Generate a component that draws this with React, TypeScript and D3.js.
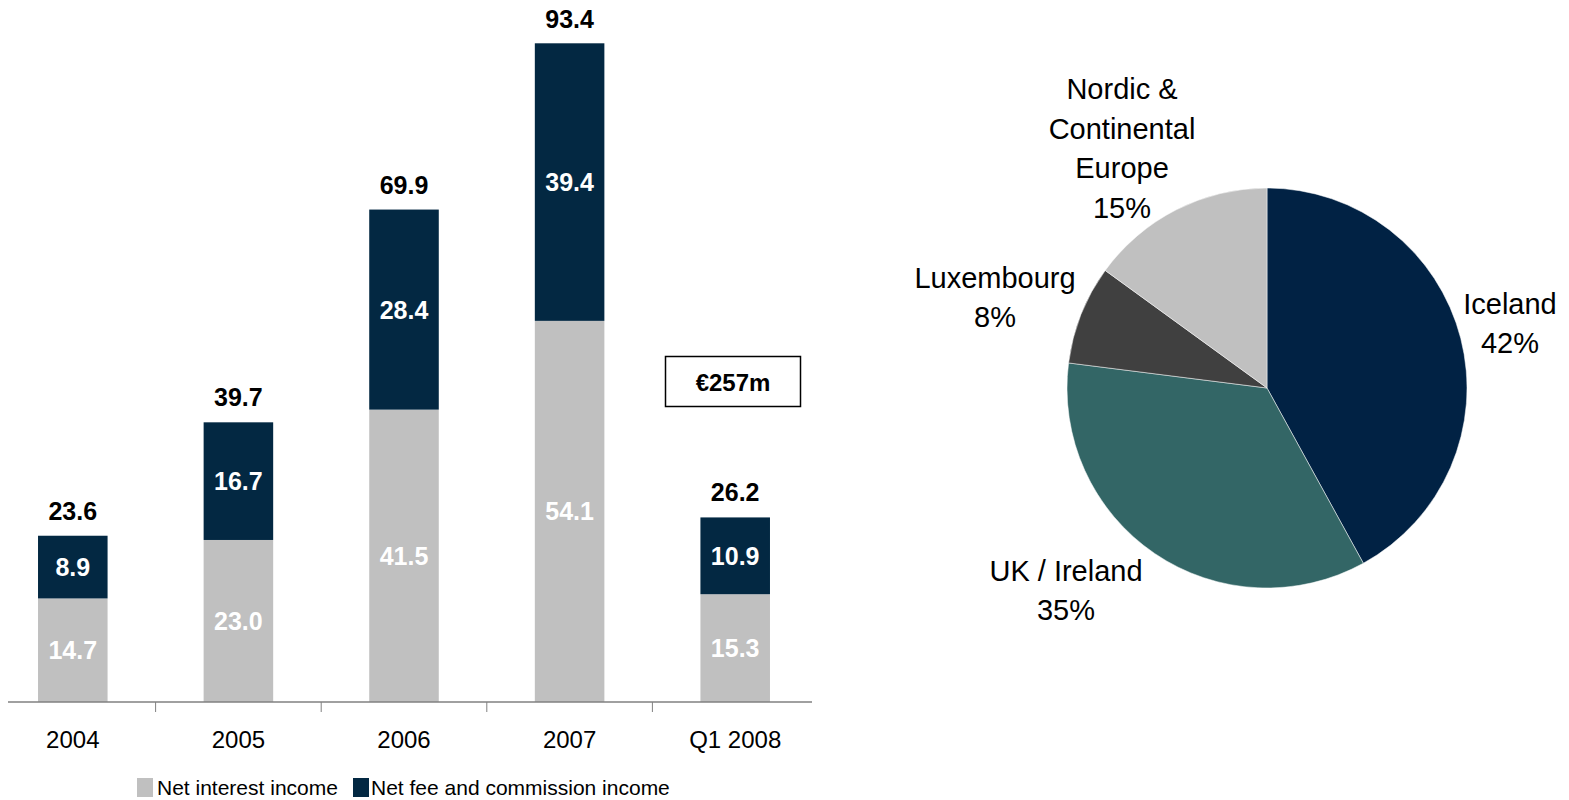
import React from 'react';
import * as d3 from 'd3';

const years = ['2004', '2005', '2006', '2007', 'Q1 2008'];
const interest = [14.7, 23.0, 41.5, 54.1, 15.3];
const fees = [8.9, 16.7, 28.4, 39.4, 10.9];
const totals = [23.6, 39.7, 69.9, 93.4, 26.2];

const regions = [['Iceland'], ['UK / Ireland'], ['Luxembourg'], ['Nordic &', 'Continental', 'Europe']];
const shares = [42, 35, 8, 15];
const regionColors = ['#012244', '#336666', '#404040', '#c0c0c0'];

const GREY = '#c0c0c0';
const NAVY = '#032842';
const FONT = '"Liberation Sans", Arial, sans-serif';

// label anchor offsets from the pie centre
const labelOffsets = [[243, -65], [-201, 202], [-272, -91], [-145, -240]];

const App = () => {
  const width = 1569;
  const height = 800;
  const baseY = 702;

  const x = d3.scaleBand<string>().domain(years).range([-10, 818]).padding(0);
  const y = d3.scaleLinear().domain([0, 93.4]).range([baseY, 44]);
  const barW = x.bandwidth() * 0.42;

  const cx = 1267, cy = 388, r = 200;
  const pie = d3.pie<number>().sort(null).value(d => d)(shares);
  const arc = d3.arc<d3.PieArcDatum<number>>().innerRadius(0).outerRadius(r);
  const lineH = 39.5;

  return (
    <svg width={width} height={height} style={{ position: 'absolute', left: 0, top: 0 }} fontFamily={FONT}>
      <rect width={width} height={height} fill="#fff" />
      {years.map((yr, i) => {
        const bx = (x(yr) as number) + x.bandwidth() / 2 - barW / 2;
        const cxB = bx + barW / 2;
        const y0 = y(interest[i]);
        const y1 = y(interest[i] + fees[i]);
        return (
          <g key={yr}>
            <rect x={bx} y={y0} width={barW} height={baseY - y0} fill={GREY} />
            <rect x={bx} y={y1} width={barW} height={y0 - y1} fill={NAVY} />
            <text x={cxB} y={(y0 + baseY) / 2} dy="0.36em" textAnchor="middle" fill="#fff" fontWeight="bold" fontSize={25}>{interest[i].toFixed(1)}</text>
            <text x={cxB} y={(y0 + y1) / 2} dy="0.36em" textAnchor="middle" fill="#fff" fontWeight="bold" fontSize={25}>{fees[i].toFixed(1)}</text>
            <text x={cxB} y={y(totals[i]) - 16} textAnchor="middle" fill="#000" fontWeight="bold" fontSize={25}>{totals[i].toFixed(1)}</text>
            <text x={cxB} y={748} textAnchor="middle" fill="#000" fontSize={24}>{yr}</text>
          </g>
        );
      })}
      <line x1={8} x2={812} y1={baseY} y2={baseY} stroke="#808080" strokeWidth={1.5} />
      {years.slice(1).map(yr => (
        <line key={yr} x1={(x(yr) as number)} x2={(x(yr) as number)} y1={baseY} y2={baseY + 10} stroke="#808080" strokeWidth={1} />
      ))}

      <rect x={665.5} y={356.5} width={135} height={50} fill="#fff" stroke="#000" strokeWidth={1.5} />
      <text x={733} y={382} dy="0.36em" textAnchor="middle" fontWeight="bold" fontSize={24}>€257m</text>

      <rect x={137} y={778} width={16} height={19} fill={GREY} />
      <text x={157} y={795} fontSize={21} fill="#000">Net interest income</text>
      <rect x={353} y={778} width={16} height={19} fill={NAVY} />
      <text x={371} y={795} fontSize={21} fill="#000">Net fee and commission income</text>

      <g transform={`translate(${cx},${cy})`}>
        {pie.map((p, i) => (
          <path key={i} d={arc(p) || ''} fill={regionColors[i]} stroke="#fff" strokeWidth={0.5} />
        ))}
        {pie.map((p, i) => {
          const [lx, ly] = labelOffsets[i];
          const lines = [...regions[i], `${shares[i]}%`];
          const top = ly - ((lines.length - 1) * lineH) / 2;
          return (
            <text key={i} textAnchor="middle" fontSize={29} fill="#000">
              {lines.map((t, j) => (
                <tspan key={j} x={lx} y={top + j * lineH} dy="0.36em">{t}</tspan>
              ))}
            </text>
          );
        })}
      </g>
    </svg>
  );
};

export default App;
